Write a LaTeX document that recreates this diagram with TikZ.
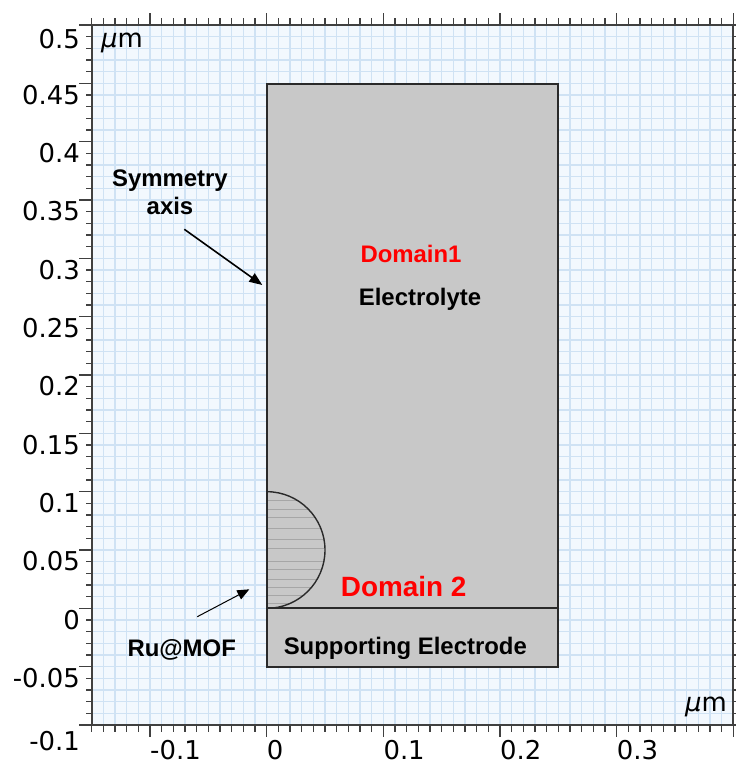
\documentclass[tikz,border=0pt]{standalone}
\usepackage{fontspec}
\setmainfont{DejaVu Sans}
\newfontfamily\labfont{Liberation Sans}
\usetikzlibrary{arrows.meta}
\definecolor{bgc}{HTML}{F2F8FE}
\definecolor{gridc}{HTML}{CFE2F4}
\definecolor{domc}{HTML}{C8C8C8}
\definecolor{edgec}{HTML}{2A2A2A}
\definecolor{hatchc}{HTML}{A6A6A6}
\definecolor{axc}{HTML}{404040}
\begin{document}
\begin{tikzpicture}[x=1bp,y=-1bp,
  ticklab/.style={font=\fontsize{26}{30}\selectfont, inner sep=0pt, text=black},
  blab/.style={font=\labfont\bfseries\fontsize{24}{28}\selectfont, inner sep=0pt, text=black},
  redlab/.style={blab, text=red},
  domainbox/.style={draw=edgec, line width=1.9bp},
  tickline/.style={axc, line width=1.3bp},
  gridline/.style={gridc, line width=1.4bp},
  pointer/.style={line width=1.6bp, -{Triangle[length=13bp,width=10bp]}}]
\useasboundingbox (0,0) rectangle (736,763);
\fill[white] (0,0) rectangle (736,763);
% plot background and grid
\fill[bgc] (91.67,25) rectangle (733.33,725);
\foreach \i in {-15,...,40} {
  \pgfmathsetmacro\xx{266.667+11.6667*\i}
  \draw[gridline] (\xx,25) -- (\xx,725);
}
\foreach \i in {-10,...,50} {
  \pgfmathsetmacro\yy{608.333-11.6667*\i}
  \draw[gridline] (91.67,\yy) -- (733.33,\yy);
}
% ticks
\foreach \i in {-15,...,40} {
  \pgfmathsetmacro\xx{266.667+11.6667*\i}
  \pgfmathsetmacro\tl{ifthenelse(mod(\i,10)==0,12,7)}
  \draw[tickline] (\xx,725) -- ++(0,\tl);
  \draw[tickline] (\xx,25) -- ++(0,-\tl);
}
\foreach \i in {-10,...,50} {
  \pgfmathsetmacro\yy{608.333-11.6667*\i}
  \pgfmathsetmacro\tl{ifthenelse(mod(\i,5)==0,13,6)}
  \draw[tickline] (91.67,\yy) -- ++(-\tl,0);
  \draw[tickline] (733.33,\yy) -- ++(\tl,0);
}
% domains
\fill[domc] (266.67,84.17) rectangle (558.33,608.33);
\fill[domc] (266.67,608.33) rectangle (558.33,666.67);
\begin{scope}
  \clip (266.67,491.67) arc[start angle=90, end angle=-90, radius=58.33bp] -- cycle;
  \foreach \h in {500,509,517.3,528.3,539.3,548.3,561,569.3,579.3,587.7,595,603.3}
    \draw[hatchc, line width=0.8bp] (266.67,\h) -- (330,\h);
\end{scope}
\draw[edgec, line width=1.4bp] (266.67,491.67) arc[start angle=90, end angle=-90, radius=58.33bp];
\draw[domainbox] (266.67,84.17) rectangle (558.33,608.33);
\draw[domainbox] (266.67,608.33) rectangle (558.33,666.67);
% frame
\draw[axc, line width=1.8bp] (91.67,25) rectangle (733.33,725);
% y tick labels
\node[ticklab, anchor=north east] (y050) at (80,29) {0.5};
\node[ticklab, anchor=north east] (y045) at (80,84.8) {0.45};
\node[ticklab, anchor=north east] (y040) at (80,143.2) {0.4};
\node[ticklab, anchor=north east] (y035) at (80,201.5) {0.35};
\node[ticklab, anchor=north east] (y030) at (80,259.8) {0.3};
\node[ticklab, anchor=north east] (y025) at (80,318.2) {0.25};
\node[ticklab, anchor=north east] (y020) at (80,376.5) {0.2};
\node[ticklab, anchor=north east] (y015) at (80,434.8) {0.15};
\node[ticklab, anchor=north east] (y010) at (80,493.2) {0.1};
\node[ticklab, anchor=north east] (y005) at (80,551.5) {0.05};
\node[ticklab, anchor=north east] (y000) at (80,609.8) {0};
\node[ticklab, anchor=north east] (ym05) at (80,668.2) {-0.05};
\node[ticklab, anchor=north east] (ym10) at (80,731) {-0.1};
% x tick labels
\node[ticklab, anchor=north west] (xm10) at (150,740) {-0.1};
\node[ticklab, anchor=north west] (x000) at (266.67,740) {0};
\node[ticklab, anchor=north west] (x010) at (383.33,740) {0.1};
\node[ticklab, anchor=north west] (x020) at (500,740) {0.2};
\node[ticklab, anchor=north west] (x030) at (616.67,740) {0.3};
% units
\node[ticklab, anchor=base west] (uy) at (101,48) {{\itshape μ}m};
\node[ticklab, anchor=base west] (ux) at (685,711.7) {{\itshape μ}m};
% labels
\node[redlab, anchor=base] (d1) at (411,262) {Domain1};
\node[blab, anchor=base] (el) at (420,305) {Electrolyte};
\node[redlab, anchor=base, font=\labfont\bfseries\fontsize{28}{32}\selectfont] (d2) at (403.7,596.7) {Domain 2};
\node[blab, anchor=base] (se) at (405.3,654) {Supporting Electrode};
\node[blab, anchor=base] (ru) at (181.7,656) {Ru@MOF};
\node[blab, anchor=north, align=center] (sym) at (170,170) {Symmetry\\axis};
% arrows
\coordinate (a1s) at (184.3,229.3);
\coordinate (a1e) at (262.3,285);
\draw[pointer] (a1s) -- (a1e);
\coordinate (a2s) at (197.3,616.7);
\coordinate (a2e) at (249.3,589.3);
\draw[pointer, line width=1bp, -{Triangle[length=12bp,width=10bp]}] (a2s) -- (a2e);
\end{tikzpicture}
\end{document}
